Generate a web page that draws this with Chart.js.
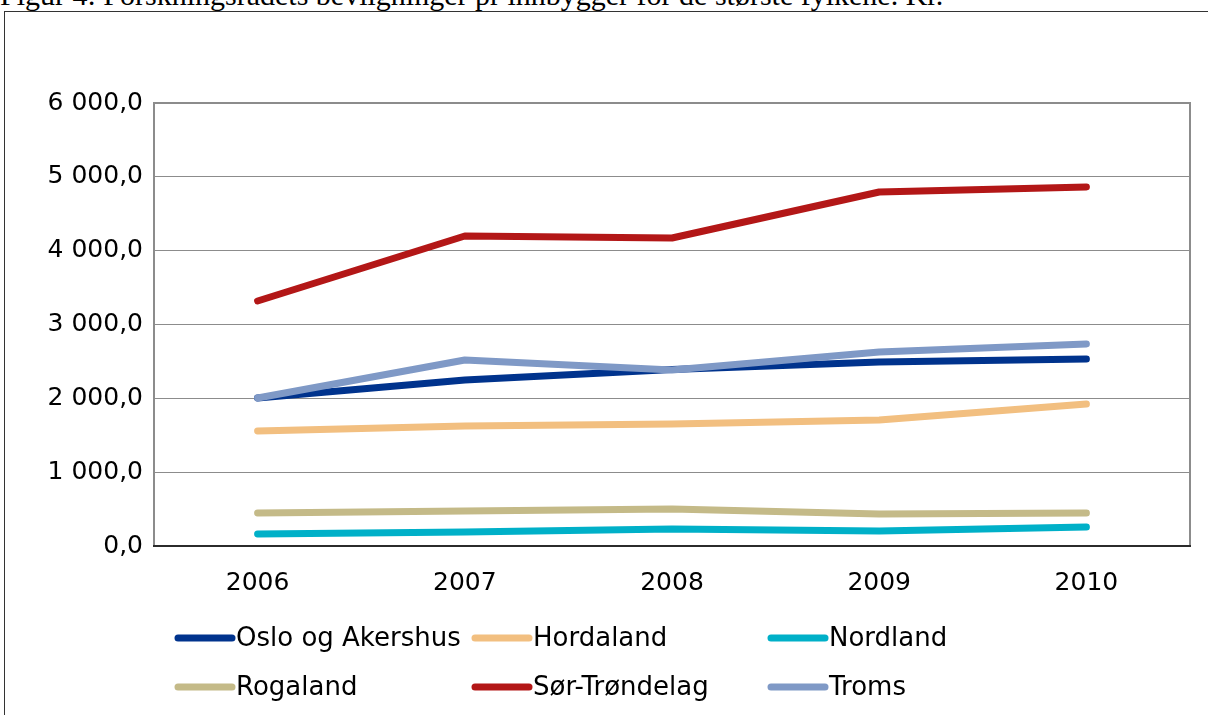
<!DOCTYPE html>
<html>
<head>
<meta charset="utf-8">
<script src="https://cdn.jsdelivr.net/npm/chart.js@4/dist/chart.umd.min.js"></script>
<style>
    html, body { margin: 0; padding: 0; background: #fff; overflow: hidden; }
    #title {
        position: absolute; left: 0; top: -20px;
        font: 30px/30px "Liberation Serif", "Times New Roman", serif;
        white-space: nowrap; color: #000;
    }
    #frame {
        position: absolute; left: 4px; top: 11px; width: 1220px; height: 720px;
        border-left: 1px solid #333; border-top: 1px solid #333;
    }
    #chart { position: absolute; left: 0; top: 0; }
</style>
</head>
<body>
<div id="title">Figur 4: Forskningsrådets bevilgninger pr innbygger for de største fylkene. Kr.</div>
<div id="frame"></div>
<canvas id="chart" width="1208" height="715"></canvas>
<script>
// data
const years = ['2006', '2007', '2008', '2009', '2010'];
const regionNames = ['Oslo og Akershus', 'Hordaland', 'Nordland', 'Rogaland', 'Sør-Trøndelag', 'Troms'];
const osloAkershus = [2005, 2248, 2390, 2492, 2533];
const hordaland = [1558, 1625, 1652, 1707, 1923];
const nordland = [163, 190, 230, 203, 257];
const rogaland = [447, 474, 501, 433, 447];
const sorTrondelag = [3318, 4199, 4172, 4795, 4863];
const troms = [2005, 2519, 2384, 2628, 2736];
const yTicks = [0, 1000, 2000, 3000, 4000, 5000, 6000];

const seriesValues = [osloAkershus, hordaland, nordland, rogaland, sorTrondelag, troms];
const seriesColors = ['#00338d', '#f2bf80', '#00b0c8', '#c4ba88', '#b31717', '#7f99c6'];

const FONT = '"DejaVu Sans", Verdana, sans-serif';

function formatNo(v) {
    const s = Math.round(v).toString().replace(/\B(?=(\d{3})+(?!\d))/g, ' ');
    return s + ',0';
}

// plot border + axis line
const plotFrame = {
    id: 'plotFrame',
    beforeDatasetsDraw(chart) {
        const { ctx, chartArea: a } = chart;
        ctx.save();
        ctx.strokeStyle = '#8c8c8c';
        ctx.lineWidth = 2;
        ctx.strokeRect(a.left, a.top, a.right - a.left, a.bottom - a.top);
        ctx.strokeStyle = '#2b2b2b';
        ctx.beginPath();
        ctx.moveTo(a.left - 1, a.bottom);
        ctx.lineTo(a.right + 1, a.bottom);
        ctx.stroke();
        ctx.restore();
    }
};

// legend in three columns like the original
const gridLegend = {
    id: 'gridLegend',
    afterDraw(chart) {
        const { ctx } = chart;
        const cols = [175, 472, 768];
        const rows = [638, 687];
        ctx.save();
        ctx.font = '26px ' + FONT;
        ctx.textBaseline = 'middle';
        ctx.fillStyle = '#000';
        chart.data.datasets.forEach((ds, i) => {
            const x = cols[i % 3];
            const y = rows[Math.floor(i / 3)];
            ctx.strokeStyle = ds.borderColor;
            ctx.lineWidth = 7;
            ctx.lineCap = 'round';
            ctx.beginPath();
            ctx.moveTo(x + 3, y);
            ctx.lineTo(x + 57, y);
            ctx.stroke();
            ctx.fillText(ds.label, x + 61, y + 1);
        });
        ctx.restore();
    }
};

new Chart(document.getElementById('chart'), {
    type: 'line',
    data: {
        labels: years,
        datasets: regionNames.map((name, i) => ({
            label: name,
            data: seriesValues[i],
            borderColor: seriesColors[i],
            backgroundColor: seriesColors[i],
            borderWidth: 7,
            borderCapStyle: 'round',
            borderJoinStyle: 'round',
            pointRadius: 0,
            tension: 0,
            order: -i
        }))
    },
    options: {
        responsive: false,
        animation: false,
        layout: { padding: { top: 103, right: 18, left: 0, bottom: 0 } },
        plugins: {
            legend: { display: false },
            tooltip: { enabled: false }
        },
        scales: {
            x: {
                offset: true,
                grid: { display: false, drawTicks: false },
                border: { display: false },
                ticks: { color: '#000', font: { family: FONT, size: 25 }, padding: 22 },
                afterFit: scale => { scale.height = 169; }
            },
            y: {
                min: 0,
                max: 6000,
                afterBuildTicks: scale => { scale.ticks = yTicks.map(v => ({ value: v })); },
                grid: { color: '#8c8c8c', lineWidth: 1, drawTicks: false },
                border: { display: false },
                ticks: {
                    color: '#000',
                    font: { family: FONT, size: 25 },
                    padding: 11,
                    callback: v => formatNo(v)
                },
                afterFit: scale => { scale.width = 154; }
            }
        }
    },
    plugins: [plotFrame, gridLegend]
});
</script>
</body>
</html>
